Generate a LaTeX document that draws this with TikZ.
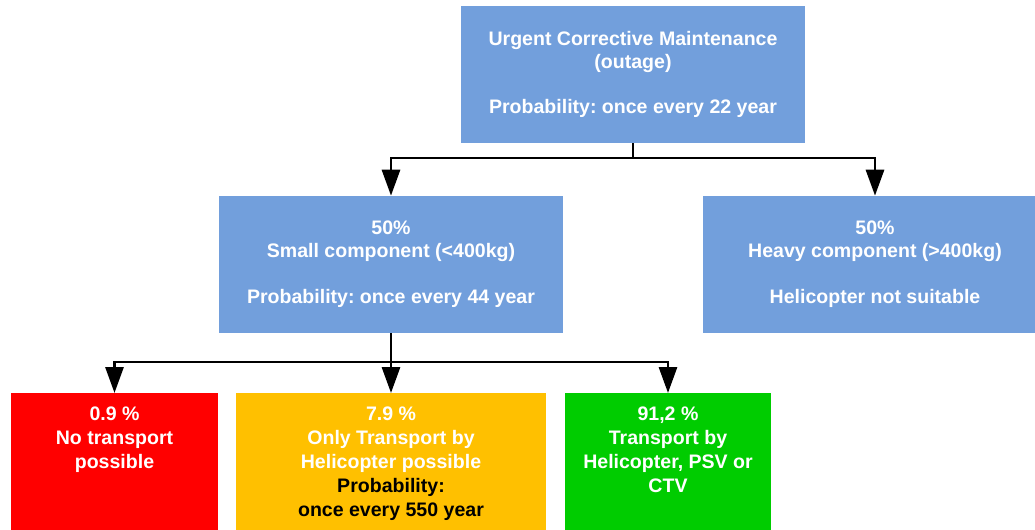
\documentclass[tikz,border=0pt]{standalone}
\usepackage{fontspec}
\setmainfont{Liberation Sans}
\frenchspacing
\usetikzlibrary{shapes,arrows.meta,positioning}
\definecolor{boxblue}{RGB}{114,159,220}
\definecolor{boxred}{RGB}{255,0,0}
\definecolor{boxorange}{RGB}{255,192,0}
\definecolor{boxgreen}{RGB}{0,204,0}
\tikzstyle{bbox} = [rectangle, fill=boxblue, text=white, font=\fontsize{13.9}{16.3}\selectfont\bfseries, align=center, minimum width=8.6cm, minimum height=3.425cm, inner sep=0pt]
\tikzstyle{cbox} = [rectangle, anchor=north, text=white, font=\fontsize{13.9}{17}\selectfont\bfseries, inner xsep=0pt, inner ysep=9.6pt]
\tikzstyle{conn} = [draw, line width=2.1pt, -{Triangle[length=0.65cm, width=0.45cm]}]
\newcommand{\cboxtext}[2]{\parbox[t][4cm][t]{#1}{\centering #2}}

\begin{document}
\begin{tikzpicture}[x=0.025cm, y=-0.025cm]
	\useasboundingbox (0,0) rectangle (1035,529);
	\clip (0,0) rectangle (1035,529);

	\node [bbox] (urgent) at (633, 74.5) {Urgent Corrective Maintenance\\(outage)\\[16.3pt]Probability: once every 22 year};
	\node [bbox] (small) at (391, 264.5) {50\%\\Small component (<400kg)\\[16.3pt]Probability: once every 44 year};
	\node [bbox] (heavy) at (875, 264.5) {50\%\\Heavy component (>400kg)\\[16.3pt]Helicopter not suitable};

	\node [cbox, fill=boxred] (none) at (114.5, 393) {\cboxtext{5.175cm}{0.9 \%\\No transport\\possible}};
	\node [cbox, fill=boxorange] (heli) at (391, 393) {\cboxtext{7.75cm}{7.9 \%\\Only Transport by\\Helicopter possible\\\color{black}Probability:\\once every 550 year}};
	\node [cbox, fill=boxgreen] (all) at (668, 393) {\cboxtext{5.15cm}{91,2 \%\\Transport by\\Helicopter, PSV or\\CTV}};

	\coordinate (j1) at (633, 158);
	\coordinate (j2) at (391, 362);

	\path [conn] (urgent.south) -- (j1) -| (small.north);
	\path [conn] (urgent.south) -- (j1) -| (heavy.north);
	\path [conn] (small.south) -- (j2) -| (none.north);
	\path [conn] (small.south) -- (heli.north);
	\path [conn] (small.south) -- (j2) -| (all.north);
\end{tikzpicture}
\end{document}
